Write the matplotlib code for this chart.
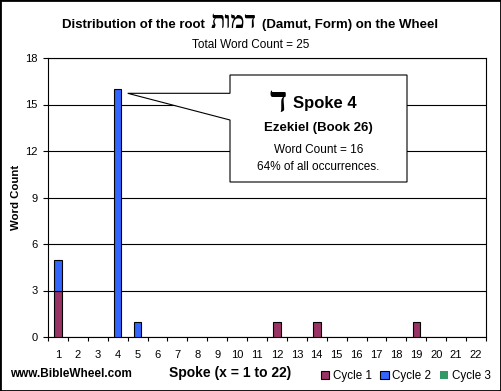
import numpy as np
import matplotlib
matplotlib.use("Agg")
import matplotlib.pyplot as plt
from matplotlib.patches import Rectangle, Polygon

plt.rcParams['font.family'] = ['Liberation Sans', 'DejaVu Sans']

# ---- data ----
spokes = list(range(1, 23))
cycle1 = [3, 0, 0, 0, 0, 0, 0, 0, 0, 0, 0, 1, 0, 1, 0, 0, 0, 0, 1, 0, 0, 0]
cycle2 = [2, 0, 0, 16, 1, 0, 0, 0, 0, 0, 0, 0, 0, 0, 0, 0, 0, 0, 0, 0, 0, 0]
cycle3 = [0] * 22
series_names = ["Cycle 1", "Cycle 2", "Cycle 3"]
colors = ["#993366", "#3366FF", "#339966"]
yticks = [0, 3, 6, 9, 12, 15, 18]
root_word = "דמות"          # logical order
letter = "ד"
total = 25
peak_spoke = 4
peak_book = "Ezekiel (Book 26)"

HEB = ["Liberation Serif", "DejaVu Sans"]

W, H = 501, 391
fig = plt.figure(figsize=(W / 100, H / 100), dpi=100)
fig.patch.set_facecolor("white")

def fx(px):
    return px / W

def fy(py):
    return 1 - py / H

ax = fig.add_axes([fx(48), fy(337), fx(486) - fx(48), fy(58) - fy(337)])

x = np.array(spokes)
c1 = np.array(cycle1)
c2 = np.array(cycle2)
c3 = np.array(cycle3)
bw = 0.38
handles = []
bottom = np.zeros(22)
for vals, col, name in zip([c1, c2, c3], colors, series_names):
    lws = [0.8 if v > 0 else 0 for v in vals]
    b = ax.bar(x, vals, bw, bottom=bottom, color=col, edgecolor="black",
               linewidth=lws, zorder=3, label=name)
    handles.append(b)
    bottom = bottom + vals

ax.set_xlim(0.5, 22.5)
ax.set_ylim(0, 18)
ax.set_yticks(yticks)
ax.yaxis.grid(True, color="black", linewidth=0.8, zorder=0)
ax.set_axisbelow(True)
for s in ax.spines.values():
    s.set_linewidth(0.8)
    s.set_color("black")

ax.set_xticks(spokes)
ax.set_xticklabels([str(s) for s in spokes], fontsize=8)
ax.set_xticks(np.arange(0.5, 23, 1), minor=True)
ax.tick_params(axis="x", which="major", length=0, pad=9)
ax.tick_params(axis="x", which="minor", length=3, width=0.8, direction="out")
ax.tick_params(axis="y", length=3.5, width=0.8, direction="out", pad=4, labelsize=8)

# ---- titles ----
tb = 28
fig.text(fx(205), fy(tb), "Distribution of the root", fontsize=9.5,
         fontweight="bold", ha="right", va="baseline")
fig.text(fx(234), fy(tb), root_word[::-1], fontsize=17, fontweight="bold",
         ha="center", va="baseline", family=HEB)
fig.text(fx(262), fy(tb), "(Damut, Form) on the Wheel", fontsize=9.5,
         fontweight="bold", ha="left", va="baseline")
fig.text(fx(251), fy(48), f"Total Word Count = {total}", fontsize=8.5,
         ha="center", va="baseline")

ax.set_ylabel("Word Count", fontsize=8.2, fontweight="bold")
ax.yaxis.set_label_coords((21 - 48) / 438, 0.5)
fig.text(fx(230), fy(377), "Spoke (x = 1 to 22)", fontsize=10,
         fontweight="bold", ha="center", va="baseline")
fig.text(fx(10), fy(377), "www.BibleWheel.com", fontsize=8.5,
         fontweight="bold", ha="left", va="baseline")

# ---- callout ----
L, R, T, B = 230, 407, 75, 182
w1, w2 = 93.3, 120
tip = (127.7, 93.3)
poly_px = [(L, T), (R, T), (R, B), (L, B), (L, w2), tip, (L, w1)]
poly = Polygon([(fx(a), fy(b)) for a, b in poly_px], closed=True,
               transform=fig.transFigure, facecolor="white",
               edgecolor="black", linewidth=0.8, zorder=10)
fig.patches.append(poly)
fig.text(fx(278), fy(112), letter, fontsize=26, fontweight="bold",
         ha="center", va="baseline", family=HEB, zorder=11)
fig.text(fx(293), fy(108), f"Spoke {peak_spoke}", fontsize=12,
         fontweight="bold", ha="left", va="baseline", zorder=11)
cx = (L + R) / 2
fig.text(fx(cx), fy(131), peak_book, fontsize=9.5, fontweight="bold",
         ha="center", va="baseline", zorder=11)
peak = cycle1[peak_spoke - 1] + cycle2[peak_spoke - 1] + cycle3[peak_spoke - 1]
fig.text(fx(cx), fy(153), f"Word Count = {peak}", fontsize=8.5,
         ha="center", va="baseline", zorder=11)
fig.text(fx(cx), fy(170), f"{round(100 * peak / total)}% of all occurrences.",
         fontsize=8.5, ha="center", va="baseline", zorder=11)

# ---- legend ----
fig.legend(handles=handles, labels=series_names, loc="center left",
           bbox_to_anchor=(fx(321), fy(376)), ncol=3, frameon=False,
           fontsize=8.4, handlelength=0.7, handleheight=0.7,
           handletextpad=0.3, columnspacing=0.75, borderpad=0,
           borderaxespad=0)

fig.patches.append(Rectangle((0, 0), 1, 1, transform=fig.transFigure,
                             fill=False, edgecolor="black", linewidth=2))

fig.savefig("out.png", dpi=100)
